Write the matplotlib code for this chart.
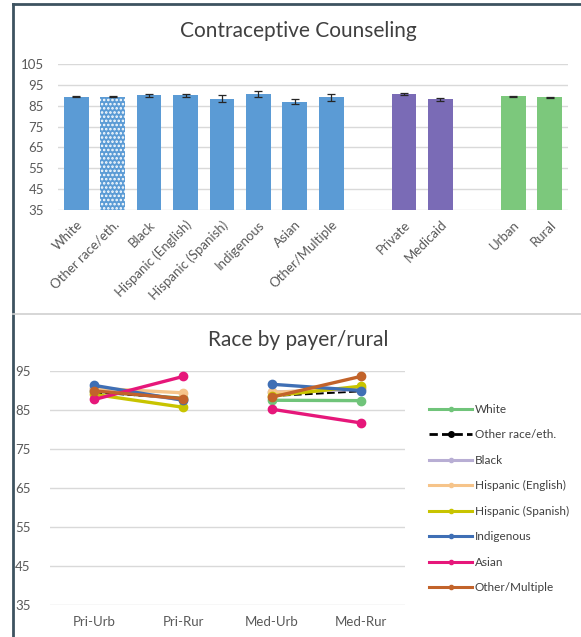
import matplotlib
matplotlib.use("Agg")
import matplotlib.pyplot as plt
from matplotlib.lines import Line2D
import numpy as np

plt.rcParams['font.family'] = ['Lato', 'DejaVu Sans']
plt.rcParams['hatch.linewidth'] = 1.2

# ---- Top chart data ----
bar_labels = ["White", "Other race/eth.", "Black", "Hispanic (English)", "Hispanic (Spanish)",
              "Indigenous", "Asian", "Other/Multiple", "", "Private", "Medicaid", "", "Urban", "Rural"]
bar_values = [89.4, 89.4, 89.9, 90.0, 88.3, 90.5, 86.9, 89.0, np.nan, 90.6, 88.0, np.nan, 89.5, 89.0]
bar_errors = [0.3, 0.3, 0.7, 0.7, 1.6, 1.5, 1.3, 1.8, np.nan, 0.3, 0.6, np.nan, 0.2, 0.4]
bar_groups = ["race", "race", "race", "race", "race", "race", "race", "race", None,
              "payer", "payer", None, "rural", "rural"]

# ---- Bottom chart data ----
line_cats = ["Pri-Urb", "Pri-Rur", "Med-Urb", "Med-Rur"]
series_names = ["White", "Other race/eth.", "Black", "Hispanic (English)", "Hispanic (Spanish)",
                "Indigenous", "Asian", "Other/Multiple"]
white_v = [89.8, 88.0, 87.5, 87.4]
other_v = [89.5, 88.0, 88.6, 89.8]
black_v = [90.5, 87.6, 89.6, 90.3]
hispe_v = [90.6, 89.4, 89.5, 90.6]
hisps_v = [89.0, 85.7, 88.6, 91.1]
indig_v = [91.3, 87.5, 91.6, 90.0]
asian_v = [87.7, 93.6, 85.2, 81.7]
othm_v = [89.9, 87.9, 88.3, 93.6]
series_vals = [white_v, other_v, black_v, hispe_v, hisps_v, indig_v, asian_v, othm_v]

W, H = 581, 637
fig = plt.figure(figsize=(W / 100, H / 100), dpi=100)
fig.patch.set_facecolor('white')

def fx(px):
    return px / W

def fy(py):
    return 1 - py / H

text_c = '#595959'
grid_c = '#d9d9d9'
group_colors = {"race": "#5b9bd5", "payer": "#7a6bb6", "rural": "#7cc87c"}

# ---- top axes ----
ax1 = fig.add_axes([fx(58), fy(210), fx(568) - fx(58), fy(64) - fy(210)])
x = np.arange(len(bar_labels))
for i in range(len(bar_labels)):
    v = bar_values[i]
    if np.isnan(v):
        continue
    col = group_colors[bar_groups[i]]
    if i == 1:
        ax1.bar(x[i], v - 35, bottom=35, width=0.68, color=col, edgecolor='white',
                hatch='....', linewidth=0, zorder=2)
    else:
        ax1.bar(x[i], v - 35, bottom=35, width=0.68, color=col, linewidth=0, zorder=2)
    ax1.errorbar(x[i], v, yerr=bar_errors[i], fmt='none', ecolor='#262626',
                 elinewidth=0.9, capsize=3, capthick=0.9, zorder=3)
ax1.set_xlim(-0.5, len(bar_labels) - 0.5)
ax1.set_ylim(35, 105)
ax1.set_yticks(np.arange(35, 106, 10))
ax1.yaxis.grid(True, color=grid_c, linewidth=1)
ax1.set_axisbelow(True)
ax1.set_xticks([i for i in x if bar_labels[i]])
ax1.set_xticklabels([l for l in bar_labels if l], rotation=45, ha='right',
                    rotation_mode='anchor', fontsize=9.5, color=text_c)
ax1.tick_params(axis='both', length=0, labelsize=9.5, labelcolor=text_c)
ax1.tick_params(axis='x', pad=6)
ax1.tick_params(axis='y', pad=10)
for s in ax1.spines.values():
    s.set_visible(False)
fig.text(fx(298), fy(31), "Contraceptive Counseling", ha='center', va='center',
         fontsize=15, color='#404040')

# ---- bottom axes ----
line_colors = ["#70c47a", "#000000", "#b8aed4", "#f6c48a", "#c8c400", "#3f6fb5",
               "#e6177a", "#c2632a"]
ax2 = fig.add_axes([fx(50), fy(605), fx(405) - fx(50), fy(371) - fy(605)])
xc = np.arange(len(line_cats))
for name, vals, col in zip(series_names, series_vals, line_colors):
    ls = '--' if name == "Other race/eth." else '-'
    lw = 1.5 if name == "Other race/eth." else 2.4
    ms = 4 if name == "Other race/eth." else 6
    for seg in (slice(0, 2), slice(2, 4)):
        ax2.plot(xc[seg], vals[seg], color=col, linestyle=ls, linewidth=lw,
                 marker='o', markersize=ms, zorder=3)
ax2.set_xlim(-0.5, 3.5)
ax2.set_ylim(35, 95)
ax2.set_yticks(np.arange(35, 96, 10))
ax2.set_xticks(xc)
ax2.set_xticklabels(line_cats)
ax2.yaxis.grid(True, color=grid_c, linewidth=1)
ax2.set_axisbelow(True)
ax2.tick_params(axis='both', length=0, labelsize=9.5, labelcolor=text_c)
ax2.tick_params(axis='x', pad=8)
ax2.tick_params(axis='y', pad=14)
for s in ax2.spines.values():
    s.set_visible(False)
fig.text(fx(298), fy(340), "Race by payer/rural", ha='center', va='center',
         fontsize=15, color='#404040')

handles = []
for name, col in zip(series_names, line_colors):
    if name == "Other race/eth.":
        handles.append(Line2D([], [], color=col, linestyle=(0, (3, 1.5)), linewidth=2,
                              marker='o', markersize=4))
    else:
        handles.append(Line2D([], [], color=col, linestyle='-', linewidth=2.2,
                              marker='o', markersize=3))
fig.legend(handles, series_names, loc='upper left', bbox_to_anchor=(fx(424), fy(399)),
           frameon=False, fontsize=8.5, labelcolor='#404040', handlelength=3.7,
           handletextpad=0.2, labelspacing=1.23, borderaxespad=0)

# ---- frame lines ----
fig.add_artist(Line2D([fx(13), fx(581)], [fy(4), fy(4)], color='#3d5360', linewidth=2))
fig.add_artist(Line2D([fx(13), fx(13)], [fy(4), fy(637)], color='#3d5360', linewidth=2))
fig.add_artist(Line2D([fx(13), fx(581)], [fy(314), fy(314)], color='#d0d0d0', linewidth=1.2))

fig.savefig("out.png", dpi=100)
